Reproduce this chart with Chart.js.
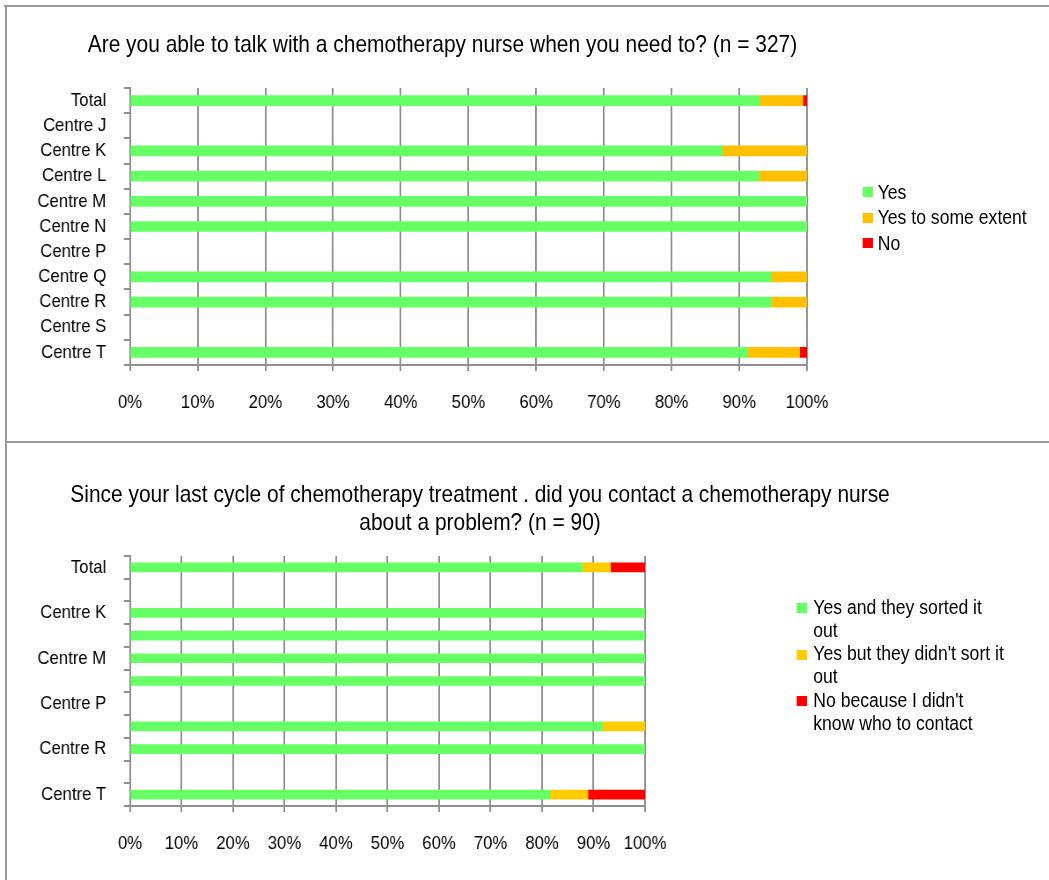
<!DOCTYPE html>
<html>
<head>
<meta charset="utf-8">
<script src="https://cdn.jsdelivr.net/npm/chart.js@4.4.1/dist/chart.umd.min.js"></script>
<style>
  body { margin: 0; background: #fff; width: 1049px; height: 880px; overflow: hidden; position: relative;
         font-family: 'Liberation Sans', Arial, sans-serif; color: #000; }
  .rule { position: absolute; background: #9a9a9a; }
  /* the whole sheet is laid out wide and squeezed a little, like the exported report */
  #sheet { position: absolute; left: 0; top: 0; width: 1192px; height: 880px;
           transform-origin: 0 0; transform: scaleX(0.88); }
  #sheet canvas { position: absolute; left: 0; }
  .title { position: absolute; font-size: 23.8px; line-height: 28px; text-align: center;
           white-space: nowrap; transform: translateX(-50%); }
  .legend { position: absolute; font-size: 20px; }
  .legend .item { position: relative; }
  .legend .sw { position: absolute; left: 0; width: 11.4px; height: 10px; }
</style>
</head>
<body>
<div class="rule" style="left:4px; top:5px; width:1045px; height:2px;"></div>
<div class="rule" style="left:5px; top:5px; width:2px; height:875px;"></div>
<div class="rule" style="left:5px; top:441px; width:1044px; height:2px;"></div>

<div id="sheet">
  <div class="title" style="left:502.8px; top:29.6px;">Are you able to talk with a chemotherapy nurse when you need to? (n = 327)</div>
  <canvas id="talkChart" width="1192" height="440" style="top:0;"></canvas>
  <div class="legend" id="talkLegend" style="left:980.3px; top:179.8px;"></div>

  <div class="title" style="left:545.5px; top:479.6px;">Since your last cycle of chemotherapy treatment . did you contact a chemotherapy nurse<br>about a problem? (n = 90)</div>
  <canvas id="contactChart" width="1192" height="440" style="top:440px;"></canvas>
  <div class="legend" id="contactLegend" style="left:905.3px; top:595.8px;"></div>
</div>

<script>
// centres, top to bottom
const centres = ['Total', 'Centre J', 'Centre K', 'Centre L', 'Centre M', 'Centre N',
                 'Centre P', 'Centre Q', 'Centre R', 'Centre S', 'Centre T'];

// able to talk with a nurse (% of answers)
const talkNames = ['Yes', 'Yes to some extent', 'No'];
const talkYes  = [93.0, null, 87.5, 92.9, 100, 100, null, 94.7, 94.7, null, 91.2];
const talkSome = [6.4,  null, 12.5, 7.1,  0,   0,   null, 5.3,  5.3,  null, 7.7];
const talkNo   = [0.6,  null, 0,    0,    0,   0,   null, 0,    0,    null, 1.1];

// contacted a nurse about a problem (% of answers)
const contactNames = ['Yes and they sorted it out', "Yes but they didn't sort it out",
                      "No because I didn't know who to contact"];
const contactSorted    = [87.8, null, 100, 100, 100, 100, null, 91.7, 100, null, 81.5];
const contactNotSorted = [5.5,  null, 0,   0,   0,   0,   null, 8.3,  0,   null, 7.4];
const contactNoKnow    = [6.7,  null, 0,   0,   0,   0,   null, 0,    0,   null, 11.1];

const pctTicks = [0, 10, 20, 30, 40, 50, 60, 70, 80, 90, 100];

const green = '#66FF66';
const red = '#FF0000';
const gridGray = '#909090';
const axisFont = { family: "'Liberation Sans', Arial, sans-serif", size: 19 };

function stackedBars(canvasId, names, series, colors, thickness, pad, everyOther) {
    new Chart(document.getElementById(canvasId), {
        type: 'bar',
        data: {
            labels: centres,
            datasets: series.map((vals, i) => ({
                label: names[i],
                data: vals,
                backgroundColor: colors[i],
                borderWidth: 0,
                barThickness: thickness
            }))
        },
        options: {
            indexAxis: 'y',
            responsive: false,
            animation: false,
            devicePixelRatio: 1,
            layout: { padding: pad },
            plugins: { legend: { display: false }, title: { display: false }, tooltip: { enabled: false } },
            scales: {
                x: {
                    stacked: true,
                    min: 0,
                    max: 100,
                    afterBuildTicks: s => { s.ticks = pctTicks.map(v => ({ value: v })); },
                    afterFit: s => { s.height = 50; },
                    ticks: { callback: v => v + '%', color: '#000', font: axisFont, padding: 20,
                             autoSkip: false, maxRotation: 0 },
                    grid: { color: gridGray, lineWidth: 2, tickLength: 6 },
                    border: { color: gridGray, width: 2 }
                },
                y: {
                    stacked: true,
                    // wide enough that the centre names are not clipped
                    afterFit: s => { s.width = 147.7; },
                    ticks: {
                        color: '#000', font: axisFont, padding: 20, autoSkip: false,
                        callback: (v, i) => (everyOther && i % 2) ? '' : centres[i]
                    },
                    grid: { drawOnChartArea: false, color: gridGray, lineWidth: 2, tickLength: 7 },
                    border: { color: gridGray, width: 2 }
                }
            }
        }
    });
}

// legend boxes beside each chart
function legend(id, names, colors, lineHeight, swTop, textLeft, width) {
    const box = document.getElementById(id);
    names.forEach((name, i) => {
        const item = document.createElement('div');
        item.className = 'item';
        item.style.lineHeight = lineHeight + 'px';
        item.style.paddingLeft = textLeft + 'px';
        if (width) item.style.width = width + 'px';
        item.innerHTML = `<span class="sw" style="top:${swTop}px;background:${colors[i]}"></span>` + name;
        box.appendChild(item);
    });
}

const talkColors = [green, '#FFC000', red];
const contactColors = [green, '#FFCC00', red];

stackedBars('talkChart', talkNames, [talkYes, talkSome, talkNo], talkColors, 10,
    { left: 0, right: 275, top: 88, bottom: 25 }, false);
stackedBars('contactChart', contactNames, [contactSorted, contactNotSorted, contactNoKnow], contactColors, 9,
    { left: 0, right: 459, top: 116, bottom: 24 }, true);

legend('talkLegend', talkNames, talkColors, 25.5, 7.5, 17.1);
legend('contactLegend', contactNames, contactColors, 23.2, 7.4, 18.9, 220);
</script>
</body>
</html>
